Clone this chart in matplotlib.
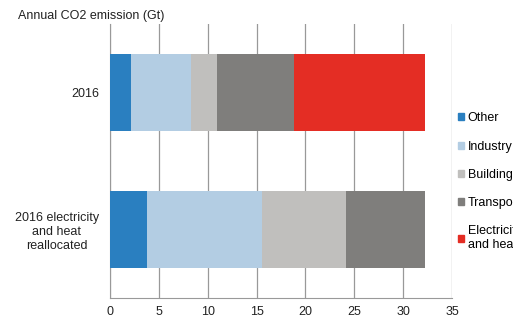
import numpy as np
from matplotlib import pyplot as plt
from matplotlib.patches import Patch

plt.rcParams['font.family'] = ['Liberation Sans', 'DejaVu Sans']

categories = ['2016', '2016 electricity\nand heat\nreallocated']
sectors = ['Other', 'Industry', 'Buildings', 'Transport', 'Electricity\nand heat']
colors = ['#2A7FC0', '#B3CDE3', '#C0BFBD', '#7F7E7C', '#E42D24']

# Gt CO2 per sector
other = [2.1, 3.8]
industry = [6.2, 11.8]
buildings = [2.7, 8.6]
transport = [7.8, 8.0]
electricity = [13.4, 0.0]

series = [other, industry, buildings, transport, electricity]

fig = plt.figure(figsize=(5.13, 3.18), dpi=100)
ax = fig.add_axes([110 / 513, 20 / 318, 342 / 513, 274 / 318])

y = np.arange(len(categories))
left = np.zeros(len(categories))
for vals, col in zip(series, colors):
    vals = np.array(vals)
    ax.barh(y, vals, left=left, height=0.555, color=col, zorder=3)
    left += vals

ax.set_xlim(0, 35)
ax.set_ylim(1.5, -0.5)
ax.set_xticks(np.arange(0, 36, 5))
ax.set_yticks(y)
ax.set_yticklabels(categories, multialignment='center')
ax.tick_params(axis='both', length=0, labelsize=9, colors='#222222')
ax.tick_params(axis='x', pad=6)
ax.tick_params(axis='y', pad=8)
ax.grid(axis='x', color='#999999', linewidth=0.9, zorder=0)
for s in ['top', 'right']:
    ax.spines[s].set_visible(False)
ax.spines['left'].set_color('#999999')
ax.spines['bottom'].set_color('#999999')

fig.text(18 / 513, 1 - 16 / 318, 'Annual CO2 emission (Gt)', fontsize=9,
         color='#222222', va='center')

handles = [Patch(color=c) for c in colors]
ax.legend(handles, sectors, loc='upper left', bbox_to_anchor=(0.995, 0.705),
          frameon=False, fontsize=9, handlelength=0.5, handleheight=0.5,
          handletextpad=0.3, labelspacing=1.3, borderaxespad=0.2)

plt.savefig('out.png', dpi=100)
